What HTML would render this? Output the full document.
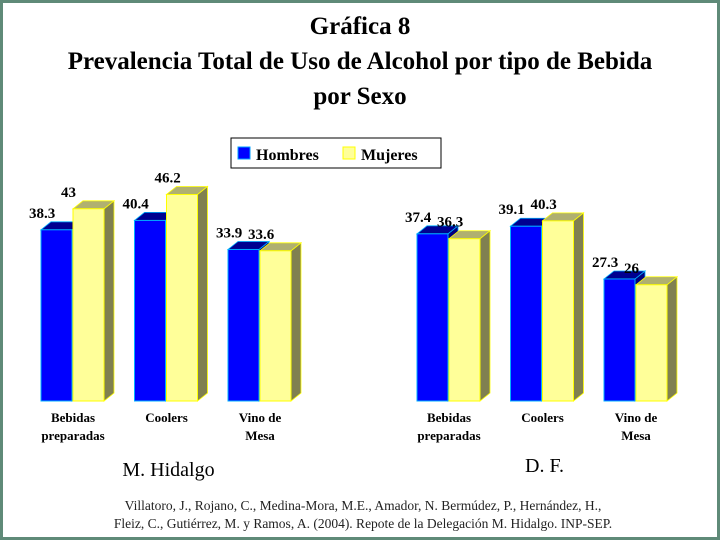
<!DOCTYPE html>
<html><head><meta charset="utf-8"><style>
body{margin:0;background:#fff}
#wrap{width:714px;height:534px;border:3px solid #5f8a78;position:relative;overflow:hidden;font-family:"Liberation Serif",serif}
</style></head><body>
<div id="wrap">
<svg id="svg" width="714" height="534" viewBox="3 3 714 534" xmlns="http://www.w3.org/2000/svg" font-family="Liberation Serif, serif">
<g font-weight="bold" font-size="25" text-anchor="middle" fill="#000">
<text x="360" y="34">Gráfica 8</text>
<text x="360" y="69">Prevalencia Total de Uso de Alcohol por tipo de Bebida</text>
<text x="360" y="104">por Sexo</text>
</g>
<g>
<rect x="231" y="138" width="210" height="30" fill="#fff" stroke="#000" stroke-width="1"/>
<rect x="238" y="147" width="12" height="12" fill="#0000ff" stroke="#00a0ff"/>
<text x="256" y="160" font-size="16" font-weight="bold">Hombres</text>
<rect x="343" y="147" width="12" height="12" fill="#ffff99" stroke="#ffff00"/>
<text x="361" y="160" font-size="16" font-weight="bold">Mujeres</text>
</g>
<g id="bars"></g>
<g font-size="13.5" text-anchor="middle" fill="#222">
<text x="363" y="510">Villatoro, J., Rojano, C., Medina-Mora, M.E., Amador, N. Bermúdez, P., Hernández, H.,</text>
<text x="363" y="528">Fleiz, C., Gutiérrez, M. y Ramos, A. (2004). Repote de la Delegación M. Hidalgo. INP-SEP.</text>
</g>
</svg>
</div>
<script>
const categories=[["Bebidas","preparadas"],["Coolers"],["Vino de","Mesa"]];
const regions=["M. Hidalgo","D. F."];
const hombres=[[38.3,40.4,33.9],[37.4,39.1,27.3]];
const mujeres=[[43,46.2,33.6],[36.3,40.3,26]];
const NS="http://www.w3.org/2000/svg";
const g=document.getElementById('bars');
const base=401, k=4.47, bw=31, dx=10, dy=8;
const regionX=[41,417], groupStep=93.5;
const y=v=>base-v*k;
function mk(t,a){const e=document.createElementNS(NS,t);for(const n in a)e.setAttribute(n,a[n]);g.appendChild(e);return e;}
function bar(x,v,front,side,top,stroke,name){
  const t=y(v);
  const s=mk('polygon',{points:`${x+bw},${t} ${x+bw+dx},${t-dy} ${x+bw+dx},${base-dy} ${x+bw},${base}`,fill:side,stroke:stroke,'stroke-width':0.8});
  
  
  const tp=mk('polygon',{points:`${x},${t} ${x+dx},${t-dy} ${x+bw+dx},${t-dy} ${x+bw},${t}`,fill:top,stroke:stroke,'stroke-width':0.8});
  
  
  const f=mk('rect',{x:x,y:t,width:bw,height:base-t,fill:front,stroke:stroke,'stroke-width':1});
  
  
  const l=mk('text',{x:x-12,y:t-12,'font-size':15,'font-weight':'bold'});
  l.textContent=v;
  
  
}
regions.forEach((r,ri)=>{
  categories.forEach((c,ci)=>{
    const x=regionX[ri]+ci*groupStep;
    bar(x,hombres[ri][ci],'#0000ff','#000080','#000090','#00b0ff','bar-hombres-'+ri+'-'+ci);
    bar(x+bw+1,mujeres[ri][ci],'#ffff99','#808050','#b0b070','#ffff00','bar-mujeres-'+ri+'-'+ci);
    c.forEach((ln,li)=>{
      const t=mk('text',{x:x+bw+1,y:422+li*18,'font-size':13,'font-weight':'bold','text-anchor':'middle'});
      t.textContent=ln;
      
      
    });
  });
  const rt=mk('text',{x:regionX[ri]+groupStep+bw+3,y:ri?472:476,'font-size':20,'text-anchor':'middle'});
  rt.textContent=r;
  
  
});
</script>
</body></html>
